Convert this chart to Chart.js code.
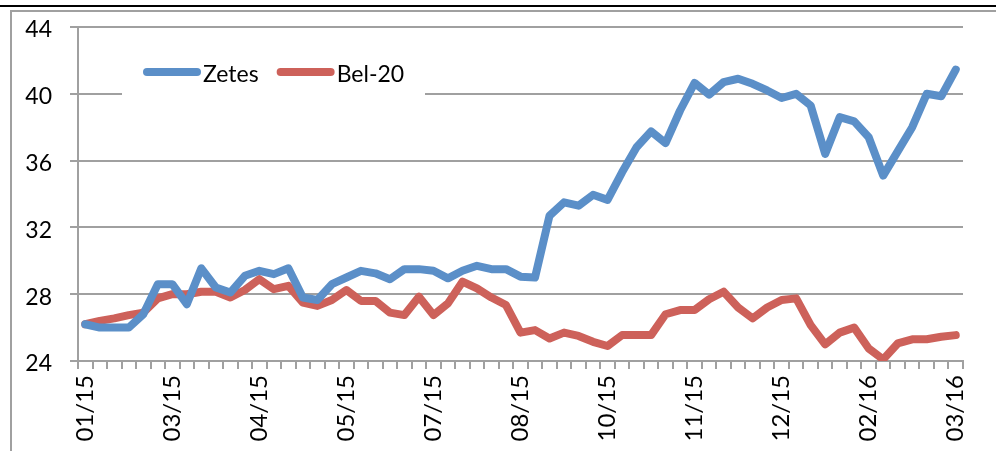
<!DOCTYPE html>
<html>
<head>
<meta charset="utf-8">
<script src="https://cdn.jsdelivr.net/npm/chart.js@4/dist/chart.umd.min.js"></script>
<style>
  html, body { margin: 0; padding: 0; background: #fff; }
  #wrap { width: 996px; height: 451px; }
</style>
</head>
<body>
<div id="wrap"><canvas id="priceChart" width="996" height="451"></canvas></div>
<script>
// Weekly closing values
const zetes = [
  26.2, 26.0, 26.0, 26.0, 26.8, 28.6, 28.6, 27.4, 29.55, 28.4,
  28.1, 29.1, 29.4, 29.2, 29.55, 27.8, 27.65, 28.6, 29.0, 29.4,
  29.25, 28.9, 29.5, 29.5, 29.4, 28.95, 29.4, 29.7, 29.5, 29.5,
  29.05, 29.0, 32.7, 33.5, 33.3, 33.95, 33.65, 35.3, 36.8, 37.75,
  37.05, 39.0, 40.65, 39.95, 40.7, 40.9, 40.6, 40.2, 39.75, 40.0,
  39.3, 36.4, 38.6, 38.35, 37.4, 35.1, 36.55, 38.0, 40.0, 39.85,
  41.45
];
const bel20 = [
  26.2, 26.4, 26.55, 26.75, 26.9, 27.75, 28.0, 28.0, 28.15, 28.15,
  27.8, 28.25, 28.9, 28.3, 28.5, 27.5, 27.3, 27.65, 28.25, 27.6,
  27.6, 26.9, 26.75, 27.85, 26.75, 27.45, 28.75, 28.35, 27.8, 27.35,
  25.7, 25.85, 25.35, 25.7, 25.5, 25.15, 24.9, 25.55, 25.55, 25.55,
  26.8, 27.05, 27.05, 27.7, 28.15, 27.2, 26.55, 27.2, 27.65, 27.75,
  26.15, 25.0, 25.7, 26.0, 24.75, 24.1, 25.05, 25.3, 25.3, 25.45,
  25.55
];

// Month labels shown on the x axis, one every 6 weeks
const tickLabels = ['01/15', '03/15', '04/15', '05/15', '07/15', '08/15',
                    '10/15', '11/15', '12/15', '02/16', '03/16'];
const labelEvery = 6;
const weeks = zetes.map((_, i) => i);

const gridGray = '#a0a0a0';
const fontFamily = 'Lato, "Open Sans", sans-serif';

// White page, black rule on top and the grey frame of the chart object
const framePlugin = {
  id: 'frame',
  beforeDraw(chart) {
    const ctx = chart.ctx;
    ctx.save();
    ctx.fillStyle = '#fff';
    ctx.fillRect(0, 0, chart.width, chart.height);
    ctx.fillStyle = '#000';
    ctx.fillRect(0, 5, chart.width, 2);
    ctx.fillStyle = gridGray;
    ctx.fillRect(10, 10, chart.width - 10, 2);
    ctx.fillRect(10, 10, 2, chart.height - 10);
    ctx.restore();
  }
};

// Legend drawn inside the plot, on a white box that hides the grid line
const insideLegend = {
  id: 'insideLegend',
  afterDraw(chart) {
    const ctx = chart.ctx;
    ctx.save();
    ctx.fillStyle = '#fff';
    ctx.fillRect(122, 56, 303, 42);
    ctx.font = '23px ' + fontFamily;
    ctx.textBaseline = 'middle';
    let x = 143;
    chart.data.datasets.forEach(ds => {
      ctx.strokeStyle = ds.borderColor;
      ctx.lineWidth = 8;
      ctx.lineCap = 'round';
      ctx.beginPath();
      ctx.moveTo(x + 4, 72);
      ctx.lineTo(x + 54, 72);
      ctx.stroke();
      ctx.fillStyle = '#000';
      ctx.fillText(ds.label, x + 60, 75);
      x += 60 + ctx.measureText(ds.label).width + 18;
    });
    ctx.restore();
  }
};

new Chart(document.getElementById('priceChart'), {
  type: 'line',
  data: {
    labels: weeks,
    datasets: [
      {
        label: 'Zetes',
        data: zetes,
        borderColor: '#5b8fc8',
        borderWidth: 8,
        pointRadius: 0,
        borderCapStyle: 'round',
        borderJoinStyle: 'round',
        tension: 0
      },
      {
        label: 'Bel-20',
        data: bel20,
        borderColor: '#cd615a',
        borderWidth: 8,
        pointRadius: 0,
        borderCapStyle: 'round',
        borderJoinStyle: 'round',
        tension: 0
      }
    ]
  },
  options: {
    responsive: false,
    animation: false,
    devicePixelRatio: 1,
    layout: { padding: { left: 0, top: 27, right: 33, bottom: 0 } },
    plugins: {
      legend: { display: false },
      tooltip: { enabled: false }
    },
    scales: {
      x: {
        type: 'category',
        offset: true,
        afterFit(scale) { scale.height = 90; },
        grid: {
          offset: true,
          drawOnChartArea: false,
          drawTicks: true,
          tickLength: 8,
          color: gridGray,
          lineWidth: 2
        },
        border: { color: gridGray, width: 2 },
        ticks: {
          autoSkip: false,
          minRotation: 90,
          maxRotation: 90,
          padding: 6,
          color: '#000',
          font: { family: fontFamily, size: 24 },
          callback: (value, index) => index % labelEvery === 0 ? tickLabels[index / labelEvery] : ''
        }
      },
      y: {
        min: 24,
        max: 44,
        afterFit(scale) {
          scale.width = 78;
          // keep the label padding from pushing the plot down
          scale.paddingTop = 0;
          scale.paddingBottom = 0;
        },
        grid: {
          color: gridGray,
          lineWidth: 2,
          drawTicks: true,
          tickLength: 8
        },
        border: { color: gridGray, width: 2 },
        ticks: {
          stepSize: 4,
          padding: 18,
          labelOffset: 3,
          color: '#000',
          font: { family: fontFamily, size: 23 }
        }
      }
    }
  },
  plugins: [framePlugin, insideLegend]
});
</script>
</body>
</html>
